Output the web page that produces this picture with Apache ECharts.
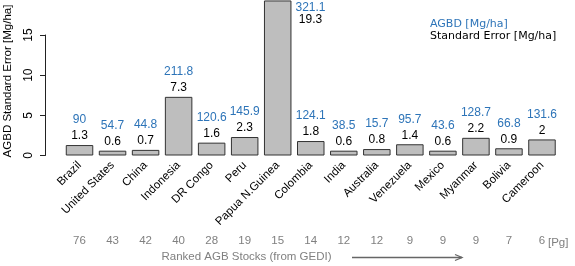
<!DOCTYPE html>
<html>
<head>
<meta charset="utf-8">
<script src="https://cdn.jsdelivr.net/npm/echarts@6/dist/echarts.min.js"></script>
<style>
html,body{margin:0;padding:0;background:#fff;}
#chart{width:575px;height:266px;}
</style>
</head>
<body>
<div id="chart"></div>
<script>
var countries = ['Brazil','United States','China','Indonesia','DR Congo','Peru','Papua N.Guinea','Colombia','India','Australia','Venezuela','Mexico','Myanmar','Bolivia','Cameroon'];
var seValues = [1.3,0.6,0.7,7.3,1.6,2.3,19.3,1.8,0.6,0.8,1.4,0.6,2.2,0.9,2];
var agbdValues = [90,54.7,44.8,211.8,120.6,145.9,321.1,124.1,38.5,15.7,95.7,43.6,128.7,66.8,131.6];
var stocks = [76,43,42,40,28,19,15,14,12,12,9,9,9,7,6];
var yTicks = [0,5,10,15];

var BLUE = '#2d74b8';
var FONT = 'Liberation Sans';

var seriesData = seValues.map(function(v, i){
  if (v > yTicks[yTicks.length-1]) {
    return {
      value: v,
      label: {
        position: [46.5, 1.5],
        align: 'center',
        verticalAlign: 'top',
        formatter: function(p){ return '{a2|' + agbdValues[p.dataIndex] + '}\n{s2|' + p.value + '}'; }
      }
    };
  }
  return v;
});

var chart = echarts.init(document.getElementById('chart'), null, {renderer:'canvas'});
chart.setOption({
  animation: false,
  textStyle: {fontFamily: FONT},
  grid: {left: 63, right: 16.5, top: 35, bottom: 110.5, containLabel: false},
  xAxis: [{
    type: 'category',
    data: countries,
    axisLine: {show: false},
    axisTick: {show: false},
    axisLabel: {interval: 0, rotate: 45, margin: 8, fontSize: 11.5, color: '#000', fontFamily: FONT}
  },{
    type: 'category',
    data: countries,
    position: 'bottom',
    offset: 79,
    axisLine: {show: false},
    axisTick: {show: false},
    axisLabel: {interval: 0, margin: 0, fontSize: 11.5, color: '#808080', fontFamily: FONT,
      formatter: function(v, i){ return String(stocks[i]); }}
  }],
  yAxis: {
    type: 'value',
    min: yTicks[0],
    max: yTicks[yTicks.length-1],
    interval: yTicks[1]-yTicks[0],
    offset: 18,
    axisLine: {show: true, lineStyle: {color: '#222', width: 1}},
    axisTick: {show: true, length: 5, lineStyle: {color: '#222'}},
    splitLine: {show: false},
    axisLabel: {rotate: 90, margin: 10, fontSize: 12, color: '#000', fontFamily: FONT}
  },
  series: [{
    type: 'bar',
    xAxisIndex: 0,
    data: seriesData,
    clip: false,
    barWidth: 27.5,
    itemStyle: {color: '#bebebe', borderColor: '#333', borderWidth: 1},
    label: {
      show: true,
      position: 'top',
      distance: 1,
      formatter: function(p){ return '{a|' + agbdValues[p.dataIndex] + '}\n{s|' + p.value + '}'; },
      rich: {
        a: {color: BLUE, fontSize: 12, lineHeight: 16, fontFamily: FONT},
        s: {color: '#000', fontSize: 12, lineHeight: 16, fontFamily: FONT},
        a2: {color: BLUE, fontSize: 12, lineHeight: 12, fontFamily: FONT},
        s2: {color: '#000', fontSize: 12, lineHeight: 12, fontFamily: FONT}
      }
    }
  }],
  graphic: [
    {type: 'text', x: 8, y: 81, rotation: Math.PI/2,
     style: {text: 'AGBD Standard Error [Mg/ha]', fontSize: 11.5, fontFamily: FONT, fill: '#000', align: 'center', verticalAlign: 'middle'}},
    {type: 'text', x: 430, y: 18,
     style: {text: '{a|AGBD [Mg/ha]}\n{s|Standard Error [Mg/ha]}', fontSize: 11, fontFamily: 'DejaVu Sans', verticalAlign: 'top',
       rich: {a: {fill: BLUE, fontSize: 11, lineHeight: 12, fontFamily: 'DejaVu Sans'}, s: {fill: '#000', fontSize: 11, lineHeight: 12, fontFamily: 'DejaVu Sans'}}}},
    {type: 'text', x: 548, y: 243,
     style: {text: '[Pg]', fontSize: 11.5, fontFamily: FONT, fill: '#808080', align: 'left', verticalAlign: 'middle'}},
    {type: 'text', x: 246.5, y: 257,
     style: {text: 'Ranked AGB Stocks (from GEDI)', fontSize: 11.5, fontFamily: FONT, fill: '#808080', align: 'center', verticalAlign: 'middle'}},
    {type: 'polyline', shape: {points: [[352, 257.5], [462, 257.5]]}, style: {stroke: '#666', lineWidth: 1.3}},
    {type: 'polyline', shape: {points: [[455, 254.5], [462, 257.5], [455, 260.5]]}, style: {stroke: '#666', lineWidth: 1.3, fill: null}}
  ]
});
</script>
</body>
</html>
